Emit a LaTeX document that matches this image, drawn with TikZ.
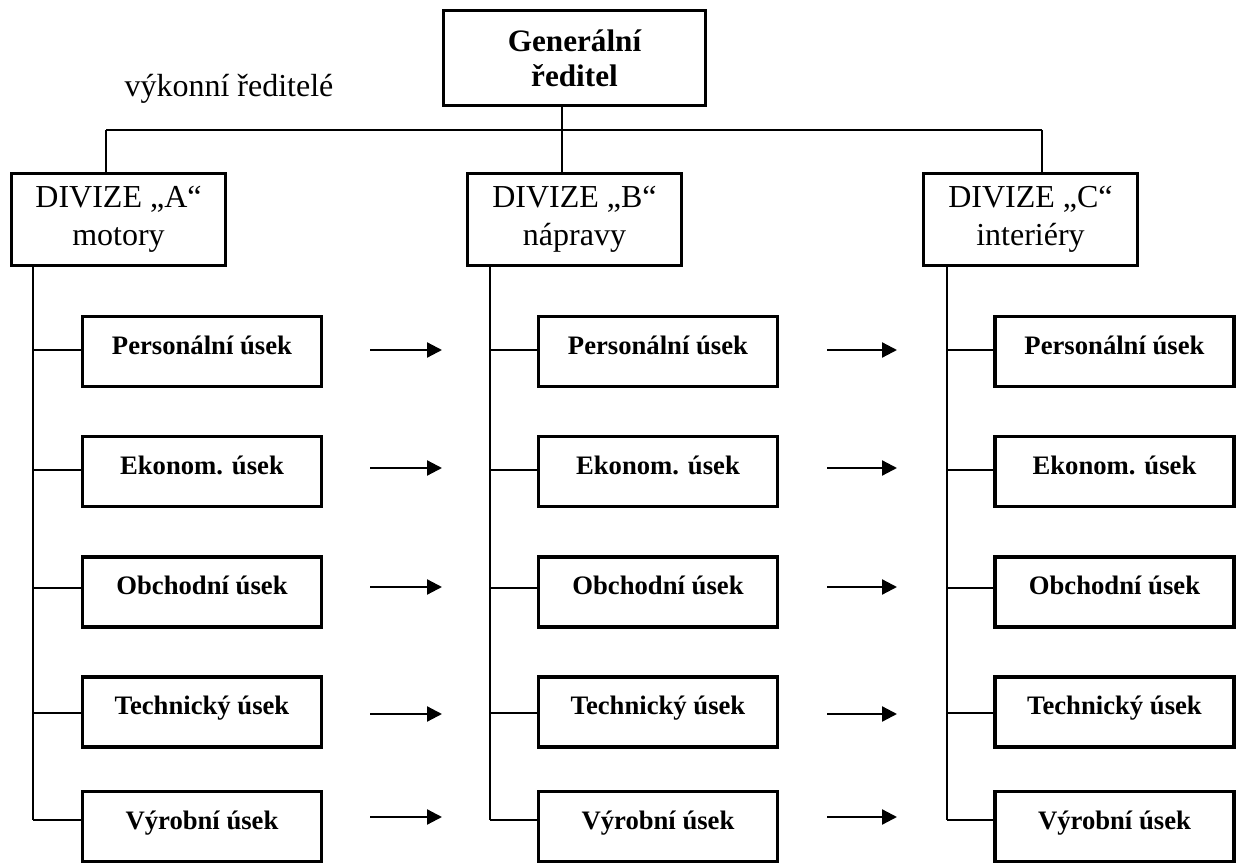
\documentclass[tikz,border=0pt]{standalone}
\usepackage{fontspec}
\setmainfont{Liberation Serif}
\usetikzlibrary{arrows.meta}
\begin{document}
\begin{tikzpicture}[x=0.75pt,y=-0.75pt,
  topbox/.style={draw, line width=2.6pt, minimum width=196.5pt, minimum height=71.25pt, inner sep=0pt, align=center, font=\bfseries\fontsize{23.4}{26.3}\selectfont},
  divbox/.style={draw, line width=2.6pt, minimum width=160.5pt, minimum height=69pt, inner sep=0pt, align=center, font=\fontsize{24}{28.5}\selectfont},
  unitbox/.style={draw, line width=2.6pt, minimum width=179.25pt, minimum height=52.5pt, inner sep=0pt, font=\bfseries\fontsize{20}{23}\selectfont, text height=13.9pt, text depth=9.9pt},
  conn/.style={line width=1.05pt},
  flow/.style={line width=1.7pt, -{Triangle[length=11.25pt,width=11.25pt]}},
  lbl/.style={font=\fontsize{24}{28.5}\selectfont, inner sep=0pt}]
\useasboundingbox (0,0) rectangle (1243,863);

% top
\node[topbox] (top) at (574.5,58) {Generální\\ředitel};
\node[lbl, anchor=base] (vyk) at (229,97) {výkonní ředitelé};

% divisions
\node[divbox] (A) at (118.5,219.5) {DIVIZE „A“\\motory};
\node[divbox] (B) at (574.5,219.5) {DIVIZE „B“\\nápravy};
\node[divbox] (C) at (1030.5,219.5) {DIVIZE „C“\\interiéry};

% top connectors
\coordinate (hub) at (562,130);
\coordinate (hA) at (106,130);
\coordinate (hC) at (1042,130);
\draw[conn] (hub |- top.south) -- (hub |- B.north);
\draw[conn] (hA) -- (hC);
\draw[conn] (hA) -- (hA |- A.north);
\draw[conn] (hC) -- (hC |- C.north);

% branch lines x
\coordinate (bA) at (33,0);
\coordinate (bB) at (490,0);
\coordinate (bC) at (947,0);

\foreach \i/\name/\cy/\sy/\ay in {1/Personální úsek/351.5/350/350,
                                  2/Ekonom. úsek/471.5/470/468,
                                  3/Obchodní úsek/592/588/587,
                                  4/Technický úsek/712/713/714,
                                  5/Výrobní úsek/826.5/820/817}{
  \node[unitbox] (A\i) at (202,\cy) {\name};
  \node[unitbox] (B\i) at (658,\cy) {\name};
  \node[unitbox] (C\i) at (1114.5,\cy) {\name};
  \coordinate (s\i) at (0,\sy);
  \draw[conn] (bA |- s\i) -- (A\i.west |- s\i);
  \draw[conn] (bB |- s\i) -- (B\i.west |- s\i);
  \draw[conn] (bC |- s\i) -- (C\i.west |- s\i);
  \coordinate (fa\i) at (370,\ay);
  \coordinate (ta\i) at (442,\ay);
  \coordinate (fb\i) at (827,\ay);
  \coordinate (tb\i) at (897,\ay);
  \draw[flow] (fa\i) -- (ta\i);
  \draw[flow] (fb\i) -- (tb\i);
}

\draw[conn] (A.south -| bA) -- (bA |- s5);
\draw[conn] (B.south -| bB) -- (bB |- s5);
\draw[conn] (C.south -| bC) -- (bC |- s5);
\end{tikzpicture}
\end{document}
